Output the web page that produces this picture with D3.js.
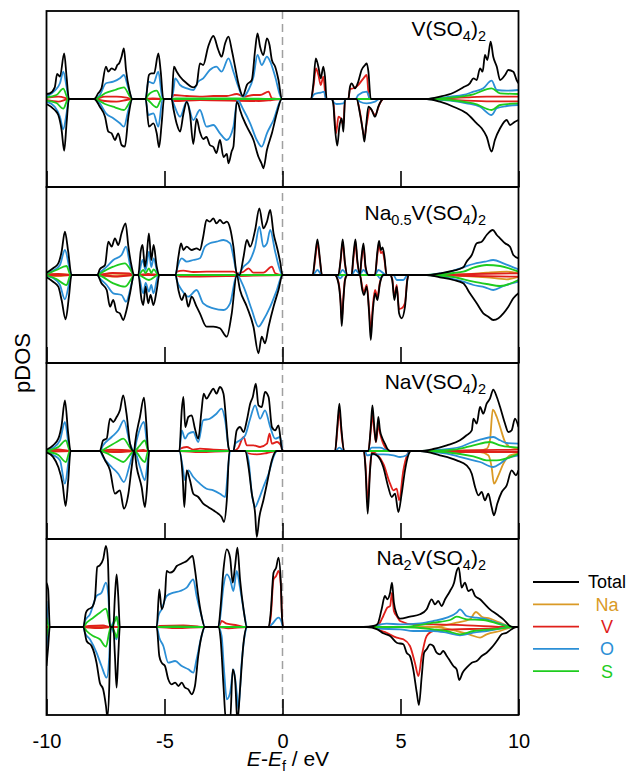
<!DOCTYPE html>
<html>
<head>
<meta charset="utf-8">
<script src="https://cdn.jsdelivr.net/npm/d3@7"></script>
<style>
  body { margin: 0; background: #fff; }
  text { font-family: "Liberation Sans", Arial, sans-serif; }
</style>
</head>
<body>
<svg id="chart" width="630" height="782"></svg>
<script>
// ---- categories / labels ----
var xTicks = [-10, -5, 0, 5, 10];
var species = ["Total", "Na", "V", "O", "S"];
var drawOrder = ["Na", "V", "O", "S", "Total"];
var speciesColor = { Total: "#000000", Na: "#DA9A26", V: "#E0201B", O: "#2B8FD6", S: "#1ECC1E" };

// compound names: [text, isSubscript]
var title1 = [["V(SO", 0], ["4", 1], [")", 0], ["2", 1]];
var title2 = [["Na", 0], ["0.5", 1], ["V(SO", 0], ["4", 1], [")", 0], ["2", 1]];
var title3 = [["NaV(SO", 0], ["4", 1], [")", 0], ["2", 1]];
var title4 = [["Na", 0], ["2", 1], ["V(SO", 0], ["4", 1], [")", 0], ["2", 1]];

// ---- pDOS data: [E - Ef (eV), DOS], spin up (+) / spin down (-) ----
// V(SO4)2
var p1TotalUp = [[-10,0.5],[-9.86,0.57],[-9.65,1.17],[-9.55,2.5],[-9.43,2.23],[-9.25,4.57],[-9.15,2.23],[-9.05,0],[-7.98,0],[-7.81,0.57],[-7.67,1.07],[-7.48,3.23],[-7.38,2.73],[-7.24,3.07],[-7.1,2.9],[-7.0,3.4],[-6.92,3.57],[-6.82,4.23],[-6.72,5.07],[-6.63,2.9],[-6.49,0.9],[-6.36,0],[-5.8,0],[-5.66,2.4],[-5.56,2.57],[-5.44,2.57],[-5.26,4.57],[-5.16,2.73],[-5.05,0],[-4.7,0],[-4.6,3.23],[-4.48,2.73],[-4.34,2.23],[-4.06,1.57],[-3.78,1.17],[-3.64,1.4],[-3.5,3.57],[-3.36,3.4],[-3.15,5.23],[-2.93,6.3],[-2.72,4.9],[-2.58,4.23],[-2.43,5.57],[-2.29,6.23],[-2.15,4.9],[-2.01,3.23],[-1.87,1.57],[-1.68,0.3],[-1.51,1.4],[-1.3,1.9],[-1.16,4.9],[-1.06,6.57],[-0.95,5.23],[-0.81,4.4],[-0.66,6.07],[-0.55,5.4],[-0.45,3.9],[-0.31,3.23],[-0.17,1.9],[-0.03,0],[1.21,0],[1.31,1.57],[1.41,4.07],[1.52,3.23],[1.62,2.07],[1.73,3.23],[1.8,2.23],[1.87,0],[2.79,0],[2.86,1.23],[2.93,1.57],[3.07,1.07],[3.21,1.73],[3.35,2.9],[3.5,3.4],[3.57,3.57],[3.64,2.73],[3.74,0],[6.11,0],[6.67,0.23],[7.24,0.63],[7.66,1.17],[7.94,1.57],[8.09,2.07],[8.23,1.9],[8.37,3.07],[8.48,2.73],[8.58,4.4],[8.68,3.9],[8.82,5.73],[8.93,4.23],[9.08,3.23],[9.22,1.9],[9.43,2.4],[9.57,2.9],[9.78,2.73],[9.92,1.9],[10,1.57]];
var p1TotalDn = [[-10,-0.5],[-9.65,-1.1],[-9.5,-1.6],[-9.36,-3.1],[-9.25,-5.17],[-9.15,-2.43],[-9.05,0],[-7.98,0],[-7.74,-0.77],[-7.52,-1.77],[-7.38,-3.27],[-7.24,-3.43],[-7.1,-4.1],[-6.96,-3.43],[-6.82,-4.6],[-6.68,-4.77],[-6.53,-1.77],[-6.36,0],[-5.8,0],[-5.66,-2.77],[-5.47,-2.43],[-5.33,-3.43],[-5.23,-4.83],[-5.12,-2.43],[-5.02,0],[-4.7,0],[-4.62,-1.0],[-4.48,-2.5],[-4.34,-3.27],[-4.2,-1.5],[-4.06,-0.3],[-3.92,-1.5],[-3.78,-4.5],[-3.64,-2.0],[-3.5,-3.3],[-3.36,-4.0],[-3.22,-3.8],[-3.08,-4.6],[-2.93,-4.8],[-2.8,-5.4],[-2.65,-4.1],[-2.5,-5.8],[-2.36,-5.5],[-2.29,-6.43],[-2.15,-5.2],[-2.08,-4.77],[-1.94,-0.3],[-1.87,-0.5],[-1.8,-1.1],[-1.51,-2.77],[-1.23,-4.1],[-1.02,-5.77],[-0.88,-6.5],[-0.81,-6.93],[-0.66,-5.1],[-0.45,-3.43],[-0.24,-1.43],[-0.03,0],[2.08,0],[2.15,-0.43],[2.22,-2.77],[2.32,-4.67],[2.41,-2.77],[2.51,-1.93],[2.58,-3.27],[2.65,0],[3.14,0],[3.28,-1.43],[3.4,-3.1],[3.47,-4.27],[3.54,-2.77],[3.64,-0.77],[3.78,-1.1],[3.92,-1.77],[4.06,-0.77],[4.27,0],[6.11,0],[6.67,-0.27],[7.24,-0.77],[7.8,-1.43],[8.23,-2.43],[8.44,-2.93],[8.65,-3.77],[8.86,-5.27],[9.0,-4.1],[9.22,-2.93],[9.5,-2.1],[9.64,-2.6],[9.85,-2.27],[10,-2.1]];
var p1OUp = [[-10,0.23],[-9.65,0.83],[-9.43,1.57],[-9.29,2.73],[-9.15,1.23],[-9.05,0],[-7.98,0],[-7.74,0.4],[-7.48,1.57],[-7.17,1.73],[-6.89,2.07],[-6.72,2.4],[-6.53,1.07],[-6.36,0],[-5.8,0],[-5.69,1.73],[-5.47,1.57],[-5.26,2.73],[-5.08,0],[-4.7,0],[-4.62,0.9],[-4.55,2.07],[-4.34,1.4],[-4.06,1.07],[-3.78,0.9],[-3.57,1.73],[-3.36,2.07],[-3.08,2.9],[-2.8,3.23],[-2.58,2.73],[-2.29,4.07],[-2.08,2.73],[-1.87,1.23],[-1.68,0.23],[-1.44,0.9],[-1.23,2.23],[-1.06,4.4],[-0.88,3.4],[-0.66,4.23],[-0.52,3.73],[-0.31,2.23],[-0.03,0],[1.21,0],[1.31,0.4],[1.45,0.57],[1.62,0.63],[1.76,0.73],[1.84,0],[3.1,0],[3.21,0.4],[3.57,0.73],[3.71,0],[6.11,0],[6.39,0.03],[7.1,0.23],[7.66,0.4],[8.09,0.73],[8.51,1.07],[8.86,1.83],[9.08,0.9],[9.5,0.83],[10,0.9]];
var p1ODn = [[-10,-0.27],[-9.65,-0.77],[-9.43,-1.77],[-9.29,-3.03],[-9.15,-1.43],[-9.05,0],[-7.98,0],[-7.74,-0.43],[-7.48,-1.43],[-7.17,-1.93],[-6.89,-2.43],[-6.72,-2.77],[-6.53,-1.1],[-6.36,0],[-5.8,0],[-5.69,-1.6],[-5.47,-1.43],[-5.26,-2.77],[-5.08,0],[-4.7,0],[-4.62,-0.43],[-4.34,-1.77],[-4.06,-0.27],[-3.78,-2.1],[-3.5,-1.1],[-3.22,-2.77],[-2.93,-2.6],[-2.65,-3.43],[-2.36,-4.1],[-2.08,-2.77],[-1.91,-0.1],[-1.65,-1.1],[-1.37,-2.43],[-1.09,-4.1],[-0.88,-4.77],[-0.66,-3.43],[-0.38,-2.1],[-0.03,0],[2.08,0],[2.15,-0.27],[2.29,-0.5],[2.58,-0.43],[2.69,0],[3.14,0],[3.28,-0.27],[3.57,-0.43],[3.92,-0.27],[4.1,0],[6.11,0],[7.1,-0.17],[7.8,-0.43],[8.37,-0.77],[8.86,-1.6],[9.08,-0.93],[9.5,-0.7],[10,-0.6]];
var p1SUp = [[-10,0.17],[-9.58,0.4],[-9.29,1.03],[-9.08,0],[-7.98,0],[-7.74,0.23],[-7.52,0.57],[-7.1,0.9],[-6.72,1.17],[-6.46,0.23],[-6.36,0],[-5.8,0],[-5.69,0.4],[-5.33,0.83],[-5.12,0],[-4.7,0],[-4.5,0.07],[-2.0,0.07],[-0.03,0],[6.11,0],[7.1,0.13],[8.09,0.47],[8.86,1.07],[9.22,0.57],[10,0.5]];
var p1SDn = [[-10,-0.17],[-9.58,-0.4],[-9.29,-0.97],[-9.08,0],[-7.98,0],[-7.52,-0.5],[-7.1,-0.83],[-6.72,-1.1],[-6.46,-0.27],[-6.36,0],[-5.8,0],[-5.33,-0.83],[-5.12,0],[6.11,0],[8.09,-0.43],[8.86,-1.1],[9.22,-0.6],[10,-0.43]];
var p1VUp = [[-10,0.1],[-9.86,0.17],[-9.5,0.23],[-9.15,0.07],[-9.05,0],[-7.98,0],[-7.52,0.23],[-7.03,0.23],[-6.61,0.13],[-6.36,0],[-5.8,0],[-5.5,0.07],[-5.08,0],[-4.7,0],[-4.62,0.4],[-4.06,0.3],[-3.5,0.23],[-2.93,0.3],[-2.36,0.3],[-1.94,0.5],[-1.65,0.23],[-1.23,0.4],[-0.95,0.4],[-0.59,0.73],[-0.45,0.07],[-0.03,0],[1.21,0],[1.31,1.23],[1.42,3.07],[1.52,2.4],[1.62,1.4],[1.73,2.23],[1.84,0],[2.79,0],[2.86,0.97],[3.0,1.07],[3.21,1.4],[3.43,2.07],[3.57,2.4],[3.67,0],[6.11,0],[7.8,0.17],[8.65,0.23],[10,0.23]];
var p1VDn = [[-10,-0.1],[-9.5,-0.27],[-9.05,0],[-7.98,0],[-7.52,-0.2],[-7.03,-0.27],[-6.61,-0.1],[-6.36,0],[-4.7,0],[-4.62,-0.2],[-3.5,-0.1],[-1.0,-0.2],[-0.45,-0.1],[-0.03,0],[2.08,0],[2.15,-0.27],[2.27,-3.43],[2.37,-1.77],[2.46,-1.93],[2.58,-2.6],[2.65,0],[3.14,0],[3.28,-1.27],[3.47,-3.77],[3.57,-2.43],[3.71,-0.93],[3.92,-1.6],[4.13,-0.43],[4.27,0],[6.11,0],[8.65,-0.23],[10,-0.23]];

// Na0.5V(SO4)2
var p2TotalUp = [[-10,0.23],[-9.72,0.67],[-9.5,1.17],[-9.36,2.33],[-9.22,4.33],[-9.08,2.33],[-8.94,0],[-7.85,0],[-7.74,0.57],[-7.52,1.0],[-7.38,3.33],[-7.24,2.83],[-7.1,3.67],[-6.96,3.0],[-6.82,4.17],[-6.65,5.17],[-6.53,2.83],[-6.39,0.83],[-6.29,0],[-6.11,0],[-6.01,2.33],[-5.93,3.0],[-5.83,0.83],[-5.76,1.83],[-5.66,4.17],[-5.56,1.5],[-5.46,3.0],[-5.33,0.83],[-5.22,0],[-4.53,0],[-4.41,1.83],[-4.3,3.17],[-4.2,2.5],[-4.06,2.83],[-3.85,2.5],[-3.64,2.67],[-3.5,2.5],[-3.36,3.83],[-3.22,5.5],[-3.08,5.33],[-2.93,5.67],[-2.8,5.17],[-2.65,5.5],[-2.5,5.17],[-2.36,5.33],[-2.22,4.67],[-2.08,2.83],[-1.94,0.17],[-1.82,0],[-1.65,1.83],[-1.51,3.5],[-1.37,2.83],[-1.16,4.5],[-0.98,6.67],[-0.81,4.67],[-0.66,5.33],[-0.52,6.5],[-0.38,4.17],[-0.24,2.83],[-0.1,1.33],[0,0],[1.28,0],[1.38,1.83],[1.48,3.57],[1.59,1.5],[1.67,0],[2.37,0],[2.46,1.5],[2.55,3.57],[2.65,1.17],[2.75,0],[2.93,0],[3.0,1.83],[3.09,3.57],[3.17,1.5],[3.28,0],[3.35,1.83],[3.43,3.17],[3.52,0.83],[3.64,0],[3.92,0],[4.02,2.33],[4.09,3.4],[4.17,2.5],[4.24,2.77],[4.32,1.83],[4.41,0],[6.11,0],[6.67,0.17],[7.24,0.43],[7.66,0.77],[7.8,1.33],[8.02,2.0],[8.23,3.17],[8.44,3.33],[8.65,4.0],[8.91,4.5],[9.08,4.0],[9.22,3.67],[9.43,3.17],[9.64,2.83],[9.78,2.0],[10,1.67]];
var p2TotalDn = [[-10,-0.23],[-9.72,-0.67],[-9.5,-1.17],[-9.36,-2.5],[-9.19,-4.43],[-9.05,-2.17],[-8.94,0],[-7.85,0],[-7.67,-0.83],[-7.45,-1.5],[-7.31,-3.17],[-7.17,-2.5],[-7.03,-3.67],[-6.89,-3.83],[-6.75,-4.5],[-6.61,-3.5],[-6.46,-1.83],[-6.29,0],[-6.11,0],[-5.97,-2.5],[-5.9,-3.0],[-5.8,-1.17],[-5.69,-2.83],[-5.59,-2.0],[-5.47,-3.0],[-5.33,-1.5],[-5.22,0],[-4.53,0],[-4.41,-1.5],[-4.27,-2.5],[-4.13,-1.83],[-3.99,-3.17],[-3.85,-2.17],[-3.64,-3.17],[-3.5,-3.83],[-3.22,-5.17],[-2.93,-5.17],[-2.65,-5.33],[-2.36,-6.17],[-2.15,-3.83],[-1.94,0],[-1.8,-1.5],[-1.51,-3.17],[-1.23,-5.17],[-1.02,-7.83],[-0.88,-6.17],[-0.74,-6.83],[-0.59,-5.17],[-0.38,-3.17],[-0.17,-1.5],[0,0],[2.22,0],[2.37,-0.83],[2.46,-2.83],[2.51,-5.1],[2.58,-2.5],[2.65,-0.5],[2.75,0],[3.28,0],[3.38,-1.5],[3.45,-2.0],[3.57,-1.17],[3.67,-3.83],[3.74,-6.5],[3.82,-3.83],[3.92,-1.83],[4.02,-2.5],[4.13,-0.83],[4.27,0],[4.56,0],[4.65,-0.5],[4.74,-2.5],[4.84,-1.17],[4.94,-3.83],[5.05,-4.33],[5.19,-3.17],[5.29,-0.5],[5.36,0],[6.11,0],[6.67,-0.23],[7.24,-0.5],[7.66,-0.83],[7.94,-1.83],[8.23,-2.83],[8.51,-3.83],[8.72,-4.17],[8.93,-4.5],[9.15,-4.33],[9.36,-3.83],[9.57,-3.17],[9.78,-2.33],[10,-1.83]];
var p2OUp = [[-10,0.1],[-9.72,0.43],[-9.43,1.0],[-9.22,2.5],[-9.01,0.5],[-8.94,0],[-7.85,0],[-7.74,0.23],[-7.45,0.83],[-7.17,1.5],[-6.82,2.0],[-6.63,2.83],[-6.46,1.0],[-6.32,0],[-6.11,0],[-5.93,1.5],[-5.8,0.5],[-5.66,2.33],[-5.56,0.8],[-5.46,1.67],[-5.26,0],[-4.53,0],[-4.48,0.5],[-4.27,1.67],[-4.06,1.33],[-3.78,1.5],[-3.5,1.67],[-3.29,2.83],[-3.08,3.17],[-2.8,3.33],[-2.5,3.5],[-2.22,3.17],[-2.08,1.83],[-1.91,0],[-1.65,0.83],[-1.37,1.5],[-1.16,2.83],[-0.98,4.83],[-0.81,2.83],[-0.66,3.17],[-0.52,4.5],[-0.31,2.33],[0,0],[1.28,0],[1.48,0.5],[1.67,0],[2.37,0],[2.55,0.5],[2.75,0],[2.93,0],[3.09,0.5],[3.28,0.1],[3.43,0.5],[3.64,0],[3.92,0],[4.06,0.5],[4.41,0],[6.11,0],[6.39,0.07],[7.1,0.33],[7.66,0.77],[8.09,1.1],[8.58,1.33],[8.93,1.5],[9.36,1.17],[9.78,0.77],[10,0.57]];
var p2ODn = [[-10,-0.1],[-9.72,-0.3],[-9.43,-1.0],[-9.22,-2.43],[-9.01,-0.5],[-8.94,0],[-7.85,0],[-7.74,-0.33],[-7.45,-1.0],[-7.17,-1.83],[-6.82,-2.0],[-6.63,-2.67],[-6.39,-0.83],[-6.29,0],[-6.11,0],[-5.9,-1.83],[-5.8,-0.8],[-5.66,-1.67],[-5.56,-1.0],[-5.47,-1.83],[-5.26,0],[-4.53,0],[-4.48,-0.5],[-4.27,-1.5],[-3.99,-2.17],[-3.64,-1.5],[-3.36,-2.83],[-2.93,-3.33],[-2.5,-3.5],[-2.22,-2.83],[-1.94,0],[-1.65,-1.17],[-1.3,-3.5],[-1.02,-5.17],[-0.81,-4.5],[-0.52,-3.17],[-0.24,-1.5],[0,0],[2.3,0],[2.44,-0.33],[2.6,0],[4.0,0],[4.13,-0.33],[4.3,0],[4.7,0],[4.84,-0.5],[5.12,-0.5],[5.3,0],[6.11,0],[7.1,-0.33],[7.66,-0.67],[8.09,-1.0],[8.58,-1.23],[8.93,-1.5],[9.36,-1.1],[10,-0.67]];
var p2SUp = [[-10,0.05],[-9.58,0.5],[-9.15,0.9],[-8.98,0],[-7.85,0],[-7.6,0.33],[-7.17,0.83],[-6.68,1.17],[-6.39,0.33],[-6.29,0],[-6.11,0],[-5.9,0.5],[-5.8,0.2],[-5.66,0.67],[-5.56,0.2],[-5.46,0.57],[-5.26,0],[6.11,0],[7.24,0.2],[7.66,0.33],[8.09,0.73],[8.65,1.0],[9.22,0.9],[10,0.33]];
var p2SDn = [[-10,-0.05],[-9.58,-0.4],[-9.15,-1.0],[-8.98,0],[-7.85,0],[-7.17,-0.83],[-6.68,-1.17],[-6.39,-0.33],[-6.29,0],[-6.11,0],[-5.66,-0.5],[-5.26,0],[6.11,0],[7.24,-0.2],[8.09,-0.67],[8.65,-0.9],[9.22,-1.1],[10,-0.5]];
var p2VUp = [[-10,0.05],[-9.5,0.1],[-9.0,0],[-7.85,0],[-7.2,0.2],[-6.5,0.15],[-6.29,0],[-6.11,0],[-5.7,0.1],[-5.22,0],[-4.53,0],[-4.48,0.33],[-4.2,0.43],[-3.78,0.3],[-3.22,0.33],[-2.65,0.33],[-2.08,0.33],[-1.91,0.17],[-1.65,0.33],[-1.44,0.67],[-1.23,0.23],[-0.81,0.23],[-0.45,0.83],[-0.31,0.17],[0,0],[1.28,0],[1.38,1.5],[1.48,3.17],[1.59,1.33],[1.67,0],[2.37,0],[2.46,1.33],[2.55,3.2],[2.65,1.0],[2.75,0],[2.93,0],[3.0,1.5],[3.09,3.2],[3.17,1.3],[3.28,0],[3.35,1.5],[3.43,2.8],[3.52,0.7],[3.64,0],[3.92,0],[4.02,2.0],[4.09,3.0],[4.17,2.2],[4.24,2.3],[4.32,1.5],[4.41,0],[6.11,0],[8.09,0.1],[10,0.17]];
var p2VDn = [[-10,-0.05],[-9.0,0],[-7.85,0],[-7.0,-0.15],[-6.29,0],[-4.53,0],[-4.3,-0.17],[-2.0,-0.1],[0,0],[2.22,0],[2.37,-0.67],[2.46,-2.5],[2.51,-4.5],[2.58,-2.2],[2.65,-0.4],[2.75,0],[3.28,0],[3.38,-1.2],[3.45,-1.7],[3.57,-1.0],[3.67,-3.5],[3.74,-5.67],[3.82,-3.3],[3.92,-1.5],[4.02,-2.2],[4.13,-0.7],[4.27,0],[4.56,0],[4.65,-0.4],[4.74,-2.2],[4.84,-1.0],[4.94,-3.4],[5.05,-3.33],[5.19,-2.8],[5.29,-0.4],[5.36,0],[6.11,0],[8.09,-0.1],[10,-0.17]];
var p2NaUp = [[-10,0.03],[-9.5,0.1],[-9.0,0],[-7.85,0],[-7.2,0.15],[-6.5,0.1],[-6.29,0],[6.11,0],[7.8,0.07],[8.65,0.23],[9.5,0.33],[10,0.17]];
var p2NaDn = [[-10,-0.03],[-9.5,-0.1],[-9.0,0],[-7.85,0],[-7.2,-0.15],[-6.29,0],[6.11,0],[8.65,-0.23],[9.5,-0.43],[10,-0.2]];

// NaV(SO4)2
var p3TotalUp = [[-10,0.13],[-9.72,0.57],[-9.5,1.23],[-9.36,2.57],[-9.22,5.07],[-9.08,1.73],[-8.98,0],[-7.74,0],[-7.6,1.07],[-7.45,1.23],[-7.31,3.23],[-7.17,2.9],[-7.03,3.4],[-6.89,4.07],[-6.75,5.57],[-6.61,3.73],[-6.46,0.73],[-6.32,0],[-6.28,0.05],[-6.25,0.73],[-6.04,3.4],[-5.87,5.33],[-5.76,2.4],[-5.69,0],[-4.37,0],[-4.27,4.07],[-4.2,5.4],[-4.12,2.4],[-3.99,3.4],[-3.85,3.57],[-3.71,2.23],[-3.57,1.23],[-3.43,4.07],[-3.34,5.73],[-3.22,5.23],[-3.08,5.73],[-2.93,6.23],[-2.8,5.73],[-2.65,6.4],[-2.5,5.73],[-2.39,3.07],[-2.29,0.4],[-2.22,0],[-2.08,0],[-1.94,2.07],[-1.8,2.4],[-1.65,1.9],[-1.51,3.07],[-1.37,4.73],[-1.26,5.4],[-1.13,6.73],[-1.02,4.57],[-0.88,4.4],[-0.74,5.9],[-0.59,5.4],[-0.45,2.4],[-0.31,2.07],[-0.17,2.57],[-0.03,0.23],[0.04,0],[2.23,0],[2.32,2.4],[2.41,4.73],[2.49,2.4],[2.61,0],[3.64,0],[3.74,2.4],[3.81,4.57],[3.89,2.4],[3.96,0.9],[4.06,3.4],[4.13,2.07],[4.24,1.23],[4.34,0.73],[4.44,0.23],[4.56,0],[5.83,0],[6.39,0.2],[6.96,0.57],[7.52,1.07],[7.8,1.57],[8.02,2.07],[8.09,3.23],[8.23,2.73],[8.37,4.4],[8.51,3.73],[8.65,4.73],[8.79,5.23],[8.93,6.13],[9.08,5.4],[9.22,4.4],[9.43,2.73],[9.57,1.9],[9.71,2.07],[9.85,3.23],[10,2.4]];
var p3TotalDn = [[-10,-0.13],[-9.72,-0.6],[-9.5,-1.6],[-9.32,-3.27],[-9.19,-5.5],[-9.08,-2.93],[-8.98,0],[-7.74,0],[-7.52,-0.93],[-7.31,-1.93],[-7.1,-4.27],[-6.89,-3.93],[-6.72,-5.77],[-6.53,-4.27],[-6.39,-1.6],[-6.28,0],[-6.18,-1.6],[-5.97,-3.6],[-5.83,-5.6],[-5.73,-3.27],[-5.65,0],[-4.37,0],[-4.23,-2.6],[-4.16,-5.6],[-4.06,-1.93],[-3.92,-2.93],[-3.78,-4.27],[-3.57,-4.6],[-3.36,-5.27],[-3.15,-5.6],[-2.93,-5.93],[-2.72,-6.27],[-2.58,-6.6],[-2.48,-7.1],[-2.36,-4.93],[-2.25,0],[-1.58,0],[-1.44,-1.6],[-1.3,-4.27],[-1.16,-6.27],[-1.09,-8.6],[-0.98,-6.6],[-0.81,-4.93],[-0.66,-3.27],[-0.45,-0.93],[-0.31,-0.1],[-0.24,0],[3.45,0],[3.52,-1.93],[3.61,-6.27],[3.71,-1.93],[3.78,-0.27],[3.99,-0.43],[4.27,-1.6],[4.48,-3.6],[4.63,-4.6],[4.77,-4.27],[4.91,-6.1],[5.05,-4.27],[5.19,-1.93],[5.33,-0.43],[5.44,0],[5.83,0],[6.67,-0.43],[7.38,-0.93],[7.8,-1.43],[8.02,-2.27],[8.16,-3.6],[8.3,-4.43],[8.44,-4.1],[8.58,-4.93],[8.72,-4.27],[8.86,-5.6],[8.96,-6.43],[9.1,-5.27],[9.29,-4.1],[9.5,-3.43],[9.71,-1.93],[9.89,-2.43],[10,-1.93]];
var p3OUp = [[-10,0.07],[-9.72,0.33],[-9.43,1.07],[-9.22,2.9],[-9.04,0.33],[-8.98,0],[-7.74,0],[-7.6,0.57],[-7.24,1.4],[-6.96,2.07],[-6.72,3.07],[-6.46,0.73],[-6.28,0],[-6.18,1.07],[-5.87,2.9],[-5.69,0],[-4.37,0],[-4.27,2.07],[-4.13,1.23],[-3.99,1.73],[-3.78,1.9],[-3.57,0.9],[-3.36,3.07],[-3.08,3.23],[-2.8,3.73],[-2.58,4.23],[-2.43,3.07],[-2.25,0],[-2.08,0],[-2.01,0.73],[-1.8,1.07],[-1.58,1.57],[-1.37,3.23],[-1.16,4.57],[-0.95,3.23],[-0.74,4.07],[-0.52,2.4],[-0.31,1.23],[-0.1,1.4],[0.01,0],[2.23,0],[2.41,0.33],[2.61,0],[3.64,0],[3.78,0.33],[4.13,0.33],[4.41,0.07],[4.56,0],[5.83,0],[6.67,0.13],[7.52,0.4],[7.94,0.8],[8.37,1.13],[8.93,1.4],[9.22,1.07],[9.5,0.8],[10,0.73]];
var p3ODn = [[-10,-0.1],[-9.72,-0.4],[-9.43,-0.93],[-9.22,-3.27],[-9.04,-0.6],[-8.98,0],[-7.74,0],[-7.6,-0.6],[-7.24,-1.6],[-6.96,-2.27],[-6.72,-3.1],[-6.46,-1.27],[-6.28,0],[-6.04,-1.6],[-5.83,-2.93],[-5.69,-0.6],[-5.65,0],[-4.37,0],[-4.23,-1.6],[-4.13,-2.93],[-3.99,-1.93],[-3.78,-2.6],[-3.5,-3.27],[-3.22,-3.77],[-2.93,-3.93],[-2.65,-4.27],[-2.43,-4.6],[-2.29,-1.27],[-2.22,0],[-1.58,0],[-1.44,-0.93],[-1.3,-4.27],[-1.16,-5.6],[-1.02,-4.93],[-0.81,-3.6],[-0.59,-2.27],[-0.38,-0.6],[-0.24,0],[3.5,0],[3.57,-0.43],[3.85,-0.33],[4.27,-0.33],[4.7,-0.43],[4.98,-0.6],[5.26,-0.43],[5.4,0],[5.83,0],[6.96,-0.27],[7.8,-0.77],[8.37,-1.1],[8.93,-1.6],[9.22,-1.27],[9.5,-0.77],[10,-0.43]];
var p3SUp = [[-10,0.05],[-9.5,0.4],[-9.18,1.07],[-9.01,0],[-7.74,0],[-7.45,0.33],[-7.03,0.9],[-6.75,1.23],[-6.39,0.13],[-6.28,0],[-6.04,0.57],[-5.83,1.07],[-5.69,0],[5.83,0],[7.38,0.17],[8.09,0.57],[8.79,0.9],[9.22,0.57],[10,0.33]];
var p3SDn = [[-10,-0.05],[-9.5,-0.4],[-9.18,-1.1],[-9.01,0],[-7.74,0],[-7.03,-0.77],[-6.75,-1.1],[-6.39,-0.2],[-6.28,0],[-5.83,-1.1],[-5.69,0],[5.83,0],[8.09,-0.53],[8.65,-0.93],[9.08,-0.93],[10,-0.27]];
var p3VUp = [[-10,0.05],[-9.5,0.15],[-9.0,0],[-7.74,0],[-7.3,0.13],[-6.8,0.1],[-6.28,0],[-5.9,0.1],[-5.69,0],[-4.37,0],[-4.34,0.23],[-4.06,0.4],[-3.78,0.13],[-3.5,0.23],[-2.93,0.13],[-2.29,0.07],[-2.22,0],[-2.08,0],[-1.87,0.33],[-1.65,1.4],[-1.51,0.57],[-1.23,0.57],[-0.95,0.4],[-0.66,0.73],[-0.55,1.73],[-0.45,0.73],[-0.24,0.9],[-0.03,0.4],[0.01,0],[2.23,0],[2.32,2.0],[2.41,4.07],[2.49,2.0],[2.61,0],[3.64,0],[3.74,2.0],[3.81,3.57],[3.89,2.0],[3.96,0.9],[4.06,2.57],[4.13,1.8],[4.34,0.4],[4.56,0],[5.83,0],[7.8,0.07],[10,0.13]];
var p3VDn = [[-10,-0.05],[-9.0,0],[-7.74,0],[-7.0,-0.1],[-6.28,0],[-4.37,0],[-3.5,-0.1],[-2.22,0],[-1.58,0],[-1.51,-0.2],[-1.09,-0.33],[-0.66,-0.2],[-0.24,0],[3.45,0],[3.52,-1.5],[3.61,-5.1],[3.71,-1.7],[3.78,-0.1],[4.27,-1.27],[4.56,-3.27],[4.7,-3.93],[4.84,-3.77],[4.94,-4.93],[5.12,-1.93],[5.4,0],[5.83,0],[8.02,-0.1],[10,-0.1]];
var p3NaUp = [[-10,0.03],[-9.5,0.07],[-9.0,0],[-7.74,0],[-7.2,0.1],[-6.5,0.07],[-6.28,0],[5.83,0],[8.37,0.07],[8.65,0.23],[8.79,1.07],[8.91,4.13],[9.08,3.4],[9.22,2.4],[9.43,0.9],[9.64,0.4],[10,0.23]];
var p3NaDn = [[-10,-0.03],[-9.0,0],[-7.74,0],[-7.2,-0.1],[-6.28,0],[5.83,0],[8.37,-0.1],[8.72,-0.43],[8.86,-1.6],[8.96,-3.27],[9.15,-2.43],[9.36,-1.27],[9.64,-0.43],[10,-0.27]];

// Na2V(SO4)2
var p4TotalUp = [[-10,4.4],[-9.93,3.77],[-9.86,0],[-8.44,0],[-8.33,1.43],[-8.23,1.77],[-8.09,1.93],[-7.95,2.77],[-7.85,6.0],[-7.74,6.17],[-7.6,6.77],[-7.48,8.1],[-7.4,6.77],[-7.31,0.1],[-7.24,0],[-7.17,0.1],[-7.1,3.1],[-7.03,5.27],[-6.96,3.1],[-6.89,0],[-5.33,0],[-5.22,3.77],[-5.12,1.77],[-4.98,3.1],[-4.91,5.6],[-4.77,5.43],[-4.62,5.6],[-4.48,6.1],[-4.34,6.27],[-4.2,6.43],[-4.06,6.6],[-3.92,6.93],[-3.81,7.1],[-3.71,5.77],[-3.57,3.1],[-3.43,1.1],[-3.29,0],[-2.72,0],[-2.62,2.1],[-2.5,5.77],[-2.36,7.77],[-2.22,6.93],[-2.11,4.43],[-2.01,6.1],[-1.91,7.93],[-1.8,4.77],[-1.65,1.77],[-1.51,0],[-0.59,0],[-0.5,1.43],[-0.38,5.43],[-0.27,5.93],[-0.17,6.93],[-0.07,4.43],[-0.03,1.5],[0.02,0],[3.43,0],[3.85,0.1],[4.02,0.27],[4.2,1.77],[4.34,3.1],[4.44,2.77],[4.56,3.43],[4.64,4.43],[4.72,2.43],[4.84,1.27],[4.98,0.83],[5.4,1.03],[5.83,1.27],[6.11,1.77],[6.32,2.77],[6.46,2.27],[6.6,2.6],[6.74,2.1],[6.89,2.77],[7.1,3.6],[7.27,4.43],[7.38,5.6],[7.47,5.93],[7.59,3.93],[7.73,4.43],[7.87,3.6],[8.02,3.77],[8.16,3.1],[8.37,2.77],[8.58,2.27],[8.79,1.77],[9.08,1.27],[9.36,0.77],[9.64,0.1],[9.78,0],[10,0]];
var p4TotalDn = [[-10,-3.9],[-9.93,-2.0],[-9.86,0],[-8.44,0],[-8.3,-1.4],[-8.09,-1.9],[-7.88,-3.57],[-7.74,-5.57],[-7.6,-6.23],[-7.48,-7.9],[-7.42,-9.0],[-7.34,-5.9],[-7.28,0],[-7.17,0],[-7.1,-2.9],[-7.03,-6.07],[-6.96,-2.9],[-6.89,0],[-5.33,0],[-5.22,-2.9],[-5.12,-3.57],[-4.98,-3.9],[-4.84,-5.23],[-4.7,-5.73],[-4.55,-5.57],[-4.41,-5.9],[-4.27,-5.57],[-4.13,-6.07],[-3.99,-6.23],[-3.85,-6.73],[-3.71,-5.9],[-3.57,-2.9],[-3.43,-0.9],[-3.29,0],[-2.72,0],[-2.62,-1.23],[-2.5,-5.9],[-2.39,-9.5],[-2.22,-9.5],[-2.11,-4.23],[-2.01,-5.23],[-1.91,-9.5],[-1.8,-6.23],[-1.65,-1.57],[-1.51,0],[3.57,0],[4.02,-0.23],[4.27,-0.63],[4.56,-0.9],[4.84,-1.57],[5.12,-1.73],[5.26,-2.57],[5.4,-2.9],[5.54,-4.23],[5.69,-6.57],[5.78,-7.8],[5.9,-4.9],[6.0,-2.57],[6.11,-2.23],[6.25,-1.73],[6.39,-1.9],[6.53,-2.57],[6.67,-2.73],[6.81,-2.4],[6.96,-2.9],[7.1,-3.4],[7.24,-3.9],[7.38,-4.23],[7.49,-5.3],[7.63,-4.57],[7.8,-4.07],[8.02,-3.57],[8.23,-3.4],[8.44,-2.9],[8.65,-2.57],[8.86,-2.07],[9.08,-1.4],[9.29,-0.73],[9.5,-0.57],[9.71,-0.23],[9.92,0],[10,0]];
var p4OUp = [[-10,2.6],[-9.89,0],[-8.44,0],[-8.37,0.6],[-8.16,1.27],[-7.88,3.1],[-7.67,3.43],[-7.48,4.43],[-7.38,3.1],[-7.31,0],[-7.1,0.77],[-7.03,1.03],[-6.93,0],[-5.33,0],[-5.26,1.1],[-5.12,1.77],[-4.91,3.1],[-4.62,3.43],[-4.34,3.6],[-4.06,3.93],[-3.78,4.77],[-3.64,3.1],[-3.43,1.1],[-3.29,0],[-2.72,0],[-2.65,0.77],[-2.5,4.1],[-2.36,5.27],[-2.22,4.77],[-2.08,3.6],[-1.94,5.6],[-1.8,3.93],[-1.58,0.77],[-1.51,0],[-0.59,0],[-0.45,0.27],[-0.17,0.93],[-0.03,0.43],[0.02,0],[3.99,0],[4.02,0.17],[4.41,0.33],[4.98,0.27],[5.83,0.37],[6.39,0.6],[6.96,0.93],[7.38,1.43],[7.52,1.77],[7.8,1.1],[8.23,0.93],[8.65,0.77],[9.22,0.33],[9.78,0],[10,0]];
var p4ODn = [[-10,-2.23],[-9.89,0],[-8.44,0],[-8.37,-0.57],[-8.16,-1.23],[-7.88,-2.57],[-7.67,-3.9],[-7.45,-5.07],[-7.34,-2.9],[-7.28,0],[-7.1,-0.9],[-7.03,-1.23],[-6.93,0],[-5.33,0],[-5.22,-1.07],[-5.05,-1.9],[-4.84,-3.57],[-4.55,-3.4],[-4.27,-3.9],[-3.99,-4.23],[-3.78,-4.57],[-3.64,-3.23],[-3.43,-0.9],[-3.29,0],[-2.72,0],[-2.58,-0.9],[-2.48,-4.23],[-2.36,-7.23],[-2.22,-6.57],[-2.08,-4.23],[-1.94,-6.57],[-1.87,-8.23],[-1.73,-3.57],[-1.58,-0.57],[-1.51,0],[3.99,0],[4.02,-0.17],[4.98,-0.23],[5.54,-0.4],[6.39,-0.4],[6.96,-0.57],[7.52,-0.83],[8.09,-0.57],[8.65,-0.4],[9.78,0],[10,0]];
var p4SUp = [[-10,0.93],[-9.89,0],[-8.44,0],[-8.3,0.43],[-8.02,0.93],[-7.74,1.43],[-7.48,1.83],[-7.34,0.5],[-7.28,0],[-7.1,0.6],[-7.03,1.03],[-6.93,0],[-5.33,0],[-4.5,0.05],[-3.29,0],[4.98,0],[5.54,0.1],[6.39,0.43],[7.1,0.7],[7.38,1.03],[7.8,0.77],[8.51,0.7],[9.22,0.27],[9.78,0],[10,0]];
var p4SDn = [[-10,-0.9],[-9.89,0],[-8.44,0],[-8.3,-0.4],[-8.02,-0.9],[-7.74,-1.23],[-7.48,-1.97],[-7.34,-0.5],[-7.28,0],[-7.1,-0.6],[-7.03,-1.07],[-6.93,0],[4.98,0],[6.39,-0.23],[6.96,-0.4],[7.52,-0.73],[8.09,-0.4],[9.22,-0.17],[9.78,0],[10,0]];
var p4VUp = [[-10,0.1],[-9.89,0],[-8.44,0],[-8.2,0.1],[-7.6,0.15],[-7.31,0],[-5.33,0],[-5.22,0.1],[-4.2,0.17],[-3.29,0],[-2.72,0],[-2.65,0.27],[-2.58,0.6],[-2.36,0.33],[-1.91,0.17],[-1.58,0],[-0.59,0],[-0.5,0.93],[-0.38,4.77],[-0.27,5.1],[-0.17,5.6],[-0.07,4.1],[-0.03,1.5],[0.02,0],[3.99,0],[4.13,0.43],[4.27,1.1],[4.44,1.93],[4.56,2.1],[4.64,3.43],[4.72,1.6],[4.84,1.1],[4.98,0.6],[5.54,0.27],[6.39,0.27],[7.8,0.17],[9.78,0],[10,0]];
var p4VDn = [[-10,-0.1],[-9.89,0],[-8.44,0],[-7.8,-0.1],[-7.31,0],[-5.33,0],[-4.5,-0.1],[-3.29,0],[-2.72,0],[-2.3,-0.13],[-1.51,0],[3.99,0],[4.02,-0.17],[4.41,-0.57],[4.84,-1.07],[5.12,-1.23],[5.4,-1.9],[5.61,-3.57],[5.76,-4.9],[5.9,-2.9],[6.11,-0.9],[6.39,-0.4],[7.24,-0.23],[8.65,-0.17],[9.78,0],[10,0]];
var p4NaUp = [[-10,0.05],[-9.89,0],[-8.44,0],[-7.8,0.1],[-7.31,0],[6.39,0],[7.38,0.43],[7.94,0.77],[8.2,1.5],[8.44,1.03],[8.79,0.83],[9.22,0.43],[9.78,0],[10,0]];
var p4NaDn = [[-10,-0.05],[-9.89,0],[-8.44,0],[-7.8,-0.1],[-7.31,0],[6.39,0],[7.38,-0.4],[8.02,-0.83],[8.37,-1.07],[8.65,-0.73],[9.22,-0.4],[9.78,0],[10,0]];

// panel table built from the arrays above
var panels = [
  { title: title1, titleDy: 25, series: { Total: [p1TotalUp, p1TotalDn], V: [p1VUp, p1VDn], O: [p1OUp, p1ODn], S: [p1SUp, p1SDn] } },
  { title: title2, titleDy: 33, series: { Total: [p2TotalUp, p2TotalDn], Na: [p2NaUp, p2NaDn], V: [p2VUp, p2VDn], O: [p2OUp, p2ODn], S: [p2SUp, p2SDn] } },
  { title: title3, titleDy: 26, series: { Total: [p3TotalUp, p3TotalDn], Na: [p3NaUp, p3NaDn], V: [p3VUp, p3VDn], O: [p3OUp, p3ODn], S: [p3SUp, p3SDn] } },
  { title: title4, titleDy: 26, series: { Total: [p4TotalUp, p4TotalDn], Na: [p4NaUp, p4NaDn], V: [p4VUp, p4VDn], O: [p4OUp, p4ODn], S: [p4SUp, p4SDn] } }
];

// ---- layout ----
var svg = d3.select("#chart");
var plotLeft = 46.5, plotRight = 518.5, plotTop = 11, panelH = 176;
var plotBottom = plotTop + panelH * panels.length;

var x = d3.scaleLinear().domain([-10, 10]).range([plotLeft, plotRight]);
var y = d3.scaleLinear().domain([-8.8, 8.8]).range([panelH, 0]);

var line = d3.line()
  .x(function (d) { return x(d[0]); })
  .y(function (d) { return y(d[1]); })
  .curve(d3.curveMonotoneX);

// Fermi level
svg.append("line")
  .attr("x1", x(0)).attr("x2", x(0))
  .attr("y1", plotTop).attr("y2", plotBottom)
  .style("stroke", "#a0a0a0")
  .style("stroke-width", 1.5)
  .style("stroke-dasharray", "8,5");

panels.forEach(function (p, i) {
  var g = svg.append("g").attr("transform", "translate(0," + (plotTop + i * panelH) + ")");

  g.append("clipPath").attr("id", "clip" + i)
    .append("rect")
    .attr("x", plotLeft).attr("y", 0)
    .attr("width", plotRight - plotLeft).attr("height", panelH);

  var curves = g.append("g").attr("clip-path", "url(#clip" + i + ")");
  drawOrder.forEach(function (sp) {
    var s = p.series[sp];
    if (!s) return;
    s.forEach(function (arr) {
      curves.append("path")
        .attr("d", line(arr))
        .style("fill", "none")
        .style("stroke", speciesColor[sp])
        .style("stroke-width", 1.8)
        .style("stroke-linejoin", "round");
    });
  });

  // bottom axis, ticks pointing inward
  var axis = g.append("g")
    .attr("transform", "translate(0," + panelH + ")")
    .call(d3.axisBottom(x).tickValues(xTicks).tickSizeInner(-16).tickSizeOuter(0).tickPadding(19)
      .tickFormat(function (d) { return String(d); }));
  axis.select(".domain").remove();
  axis.selectAll(".tick line").style("stroke", "#000").style("stroke-width", 1.6);
  axis.selectAll(".tick text")
    .style("font-size", "20px")
    .style("fill", "#000")
    .style("font-family", "'Liberation Sans', Arial, sans-serif");
  if (i < panels.length - 1) axis.selectAll(".tick text").remove();

  g.append("rect")
    .attr("x", plotLeft).attr("y", 0)
    .attr("width", plotRight - plotLeft).attr("height", panelH)
    .style("fill", "none")
    .style("stroke", "#000")
    .style("stroke-width", 1.8);

  // compound name
  var t = g.append("text")
    .attr("x", 486).attr("y", p.titleDy)
    .attr("text-anchor", "end")
    .style("font-size", "21px")
    .style("fill", "#000");
  var shifted = false;
  p.title.forEach(function (seg) {
    var ts = t.append("tspan").text(seg[0]);
    if (seg[1] && !shifted) { ts.attr("dy", 5).style("font-size", "14.5px"); shifted = true; }
    else if (seg[1]) { ts.style("font-size", "14.5px"); }
    else if (shifted) { ts.attr("dy", -5); shifted = false; }
  });
});

// axis titles
var xl = svg.append("text")
  .attr("x", 288).attr("y", 766)
  .attr("text-anchor", "middle")
  .style("font-size", "21px");
xl.append("tspan").style("font-style", "italic").text("E");
xl.append("tspan").text("-");
xl.append("tspan").style("font-style", "italic").text("E");
xl.append("tspan").attr("dy", 5).style("font-size", "14.5px").text("f");
xl.append("tspan").attr("dy", -5).text(" / eV");

svg.append("text")
  .attr("transform", "translate(30," + ((plotTop + plotBottom) / 2) + ") rotate(-90)")
  .attr("text-anchor", "middle")
  .style("font-size", "22px")
  .text("pDOS");

// legend
var legend = svg.append("g").attr("class", "chart-legend");
species.forEach(function (sp, k) {
  var ly = 582 + k * 22.3;
  legend.append("line")
    .attr("x1", 533).attr("x2", 579)
    .attr("y1", ly).attr("y2", ly)
    .style("stroke", speciesColor[sp])
    .style("stroke-width", 1.8);
  legend.append("text")
    .attr("x", 607).attr("y", ly)
    .attr("dy", "0.35em")
    .attr("text-anchor", "middle")
    .style("font-size", "18px")
    .style("fill", speciesColor[sp])
    .text(sp);
});
</script>
</body>
</html>
